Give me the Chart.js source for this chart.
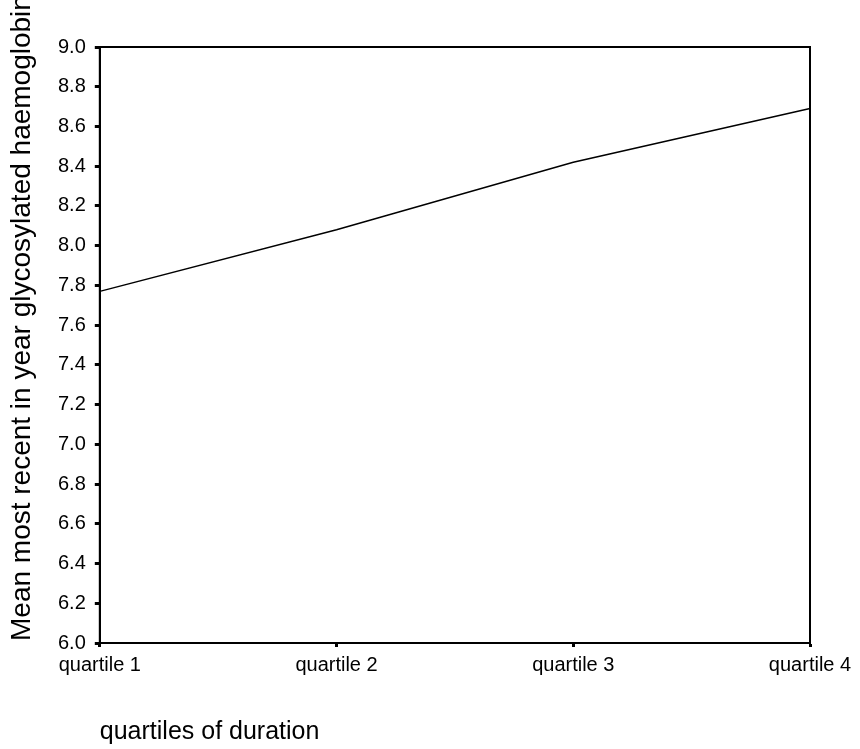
<!DOCTYPE html>
<html>
<head>
<meta charset="utf-8">
<script src="https://cdn.jsdelivr.net/npm/chart.js@4/dist/chart.umd.min.js"></script>
<style>
  html, body { margin: 0; padding: 0; background: #fff; }
  #wrap { width: 860px; height: 749px; }
</style>
</head>
<body>
<div id="wrap"><canvas id="mainChart"></canvas></div>
<script>
const quartiles = ['quartile 1', 'quartile 2', 'quartile 3', 'quartile 4'];
const meanHbA1c = [7.77, 8.08, 8.42, 8.69];
const yMin = 6.0;
const yMax = 9.0;
const yStep = 0.2;
const xTitle = 'quartiles of duration';
const yTitle = 'Mean most recent in year glycosylated haemoglobin';

// frame round the plot + y title drawn without squeezing (the original is cut at the top)
const framePlugin = {
    id: 'framePlugin',
    afterDraw(chart) {
        const ctx = chart.ctx;
        const a = chart.chartArea;
        ctx.save();
        ctx.strokeStyle = '#000';
        ctx.lineWidth = 2;
        ctx.strokeRect(a.left, a.top, a.right - a.left, a.bottom - a.top);
        ctx.fillStyle = '#000';
        ctx.font = '28px "Liberation Sans", Arial, sans-serif';
        ctx.textAlign = 'left';
        ctx.textBaseline = 'middle';
        ctx.translate(a.left - 78, a.bottom - 2);
        ctx.rotate(-Math.PI / 2);
        ctx.fillText(yTitle, 0, 0);
        ctx.restore();
    }
};

const ctx = document.getElementById('mainChart').getContext('2d');
const mainChart = new Chart(ctx, {
    type: 'line',
    data: {
        labels: quartiles,
        datasets: [{
            data: meanHbA1c,
            borderColor: '#000',
            borderWidth: 1.5,
            pointRadius: 0,
            fill: false,
            tension: 0
        }]
    },
    options: {
        responsive: true,
        maintainAspectRatio: false,
        animation: false,
        layout: { padding: { left: 49, right: 50, top: 47, bottom: 0 } },
        plugins: {
            legend: { display: false },
            tooltip: { enabled: false }
        },
        scales: {
            x: {
                offset: false,
                grid: { drawOnChartArea: false, tickLength: 4, tickWidth: 3, tickColor: '#000' },
                border: { color: '#000', width: 2 },
                ticks: {
                    color: '#000',
                    padding: 6,
                    maxRotation: 0,
                    font: { family: '"Liberation Sans", Arial, sans-serif', size: 20 }
                },
                title: {
                    display: true,
                    text: xTitle,
                    align: 'start',
                    color: '#000',
                    padding: { top: 34, bottom: 2 },
                    font: { family: '"Liberation Sans", Arial, sans-serif', size: 25 }
                }
            },
            y: {
                min: yMin,
                max: yMax,
                grid: { drawOnChartArea: false, tickLength: 5, tickWidth: 3, tickColor: '#000' },
                border: { color: '#000', width: 2 },
                ticks: {
                    stepSize: yStep,
                    color: '#000',
                    padding: 9,
                    font: { family: '"Liberation Sans", Arial, sans-serif', size: 20 },
                    callback: v => Number(v).toFixed(1)
                }
            }
        }
    },
    plugins: [framePlugin]
});
</script>
</body>
</html>
